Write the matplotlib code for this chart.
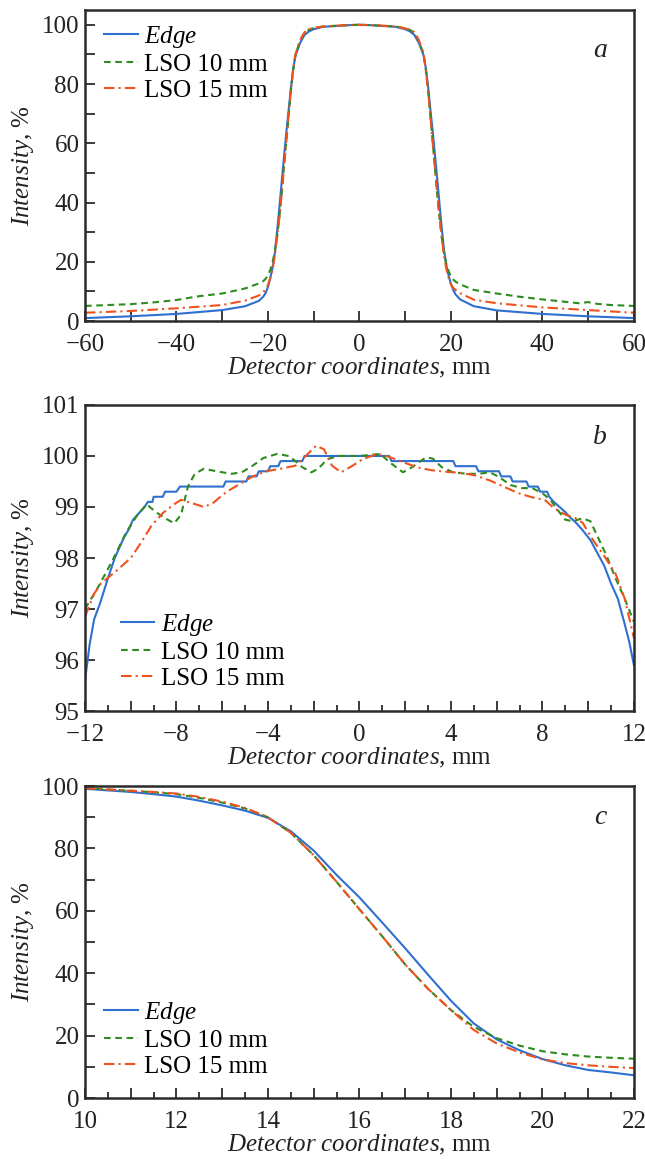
import matplotlib
matplotlib.use('Agg')
import matplotlib.pyplot as plt
from matplotlib.ticker import MultipleLocator, FuncFormatter

plt.rcParams['font.family'] = ['Liberation Serif', 'DejaVu Serif']
plt.rcParams['mathtext.fontset'] = 'custom'
plt.rcParams['mathtext.it'] = 'Liberation Serif:italic'
plt.rcParams['mathtext.rm'] = 'Liberation Serif'

# ---------------- Data ----------------
series_labels = [r'$\mathit{Edge}$', 'LSO 10 mm', 'LSO 15 mm']

# Panel a
edge_a_x = [-60, -50, -40, -30, -25, -22, -21, -20.5, -20, -19.5, -19, -18.5, -18, -17.5, -17, -16.5, -16,
            -15.5, -15, -14.5, -14, -13, -12, -11, -10, -8, -5, -2, 0,
            2, 5, 8, 10, 11, 12, 13, 14, 14.5, 15, 15.5, 16, 16.5, 17, 17.5, 18, 18.5, 19, 19.5,
            20, 20.5, 21, 22, 25, 30, 40, 50, 60]
edge_a_y = [1.0, 1.6, 2.4, 3.7, 5.0, 6.8, 8.3, 9.5, 11.5, 14.5, 18.0, 23.0, 30.5, 38.5, 47.0, 55.5, 63.5,
            71.0, 78.5, 85.0, 89.5, 93.8, 96.6, 97.8, 98.5, 99.3, 99.6, 99.9, 100.0,
            99.9, 99.6, 99.3, 98.5, 97.8, 96.6, 93.8, 89.8, 85.5, 79.3, 71.5, 64.3, 56.2, 48.0, 39.5,
            31.2, 23.9, 18.8, 15.3, 12.5, 10.5, 9.0, 7.3, 5.0, 3.6, 2.4, 1.6, 1.0]

lso10_a_x = [-60, -55, -50, -45, -40, -37, -35, -30, -25, -22, -21, -20.5, -20, -19.5, -19, -18.5, -18,
             -17.5, -17, -16.5, -16, -15.5, -15, -14.5, -14, -13, -12, -11, -10, -8, -5, -2, 0,
             2, 5, 8, 10, 11, 12, 13, 14, 14.5, 15, 15.5, 16, 16.5, 17, 17.5, 18, 18.5, 19, 19.5,
             20, 20.5, 21, 22, 25, 30, 35, 40, 45, 48, 50, 52, 55, 60]
lso10_a_y = [5.1, 5.4, 5.7, 6.3, 7.1, 7.9, 8.4, 9.3, 11.0, 12.7, 13.5, 14.3, 15.5, 17.2, 19.8, 23.5, 28.5,
             35.2, 43.0, 52.0, 60.5, 69.0, 77.5, 84.5, 89.8, 94.5, 97.3, 98.4, 98.9, 99.4, 99.7, 99.9, 100.0,
             99.9, 99.7, 99.4, 98.8, 98.3, 97.3, 94.6, 90.2, 85.0, 77.8, 69.3, 60.5, 51.8, 42.8, 35.0,
             28.2, 22.8, 19.2, 16.8, 15.0, 14.0, 13.3, 12.4, 10.5, 9.3, 8.2, 7.3, 6.5, 6.0, 6.4, 5.8, 5.4, 5.1]

lso15_a_x = [-60, -50, -40, -30, -25, -22, -21, -20.5, -20, -19.5, -19, -18.5, -18, -17.5, -17, -16.5, -16,
             -15.5, -15, -14.5, -14, -13, -12, -11, -10, -8, -5, -2, 0,
             2, 5, 8, 10, 11, 12, 13, 14, 14.5, 15, 15.5, 16, 16.5, 17, 17.5, 18, 18.5, 19, 19.5,
             20, 20.5, 21, 22, 25, 30, 40, 50, 60]
lso15_a_y = [2.8, 3.4, 4.3, 5.4, 6.9, 8.6, 9.8, 10.8, 12.2, 14.5, 17.5, 22.0, 28.2,
             35.0, 42.8, 51.8, 60.5, 69.3, 77.8, 85.0, 90.0, 94.8, 97.5, 98.5, 99.0, 99.4, 99.7, 99.9, 100.0,
             99.9, 99.7, 99.4, 98.8, 98.3, 97.5, 94.8, 90.2, 85.0, 77.8, 69.3, 60.5, 51.8, 42.8, 35.0,
             28.2, 21.8, 17.5, 14.6, 12.4, 11.2, 10.5, 9.4, 7.2, 6.0, 4.6, 3.7, 2.8]

# Panel b
edge_b_x = [-12.0, -11.8, -11.6, -11.35, -11.0, -10.7, -10.5, -10.3, -10.1, -9.9, -9.8, -9.6, -9.4, -9.25,
            -9.05, -9.0, -8.6, -8.5, -8.0, -7.85, -5.95, -5.85, -4.95, -4.85, -4.5, -4.4, -4.0, -3.9,
            -3.55, -3.45, -2.5, -2.4, 1.3, 1.4, 4.1, 4.2, 5.1, 5.2, 6.1, 6.2, 6.6, 6.7, 7.3, 7.4, 7.8,
            7.9, 8.2, 8.3, 8.5, 8.75, 9.0, 9.2, 9.45, 9.75, 10.1, 10.4, 10.7, 11.0, 11.3, 11.6, 11.8, 12.0]
edge_b_y = [95.6, 96.3, 96.8, 97.1, 97.6, 98.0, 98.2, 98.4, 98.55, 98.75, 98.8, 98.9, 99.0, 99.1,
            99.1, 99.2, 99.2, 99.3, 99.3, 99.4, 99.4, 99.5, 99.5, 99.6, 99.6, 99.7, 99.7, 99.8,
            99.8, 99.9, 99.9, 100.0, 100.0, 99.9, 99.9, 99.8, 99.8, 99.7, 99.7, 99.6, 99.6, 99.5, 99.5, 99.4, 99.4,
            99.3, 99.3, 99.2, 99.1, 99.0, 98.9, 98.8, 98.7, 98.55, 98.35, 98.1, 97.85, 97.5, 97.2, 96.7, 96.35, 95.9]

lso10_b_x = [-12.0, -11.4, -10.8, -10.2, -9.7, -9.3, -8.9, -8.5, -8.1, -7.8, -7.5, -7.2, -6.8, -6.25,
             -5.6, -5.15, -4.7, -4.2, -3.6, -3.1, -2.8, -2.5, -2.1, -1.8, -1.4, -0.9, 0.0, 0.9, 1.4,
             1.9, 2.3, 2.9, 3.2, 3.6, 4.1, 4.7, 5.2, 5.7, 6.1, 6.6, 7.1, 7.55, 8.0, 8.35, 8.65, 9.0,
             9.35, 9.75, 10.1, 10.4, 10.8, 11.2, 11.6, 12.0]
lso10_b_y = [97.0, 97.45, 97.95, 98.5, 98.85, 99.05, 98.9, 98.78, 98.68, 98.85, 99.4, 99.65, 99.75, 99.7,
             99.65, 99.68, 99.8, 99.96, 100.04, 100.0, 99.9, 99.78, 99.68, 99.75, 99.94, 100.0, 100.0, 100.04, 99.85,
             99.68, 99.78, 99.97, 99.95, 99.78, 99.68, 99.65, 99.65, 99.68, 99.59, 99.43, 99.37, 99.37, 99.27, 99.14,
             98.95, 98.75, 98.72, 98.78, 98.72, 98.43, 98.05, 97.6, 97.2, 96.75]

lso15_b_x = [-12.0, -11.6, -11.3, -10.6, -10.0, -9.55, -9.1, -8.6, -8.15, -7.8, -7.35, -6.8, -6.4, -5.8,
             -5.2, -4.7, -4.1, -3.45, -2.8, -2.35, -1.9, -1.55, -1.2, -0.8, -0.3, 0.15, 0.8, 1.25, 1.9,
             2.5, 3.15, 3.8, 4.4, 5.05, 5.7, 6.3, 6.95, 7.55, 8.1, 8.5, 9.0, 9.45, 9.76, 10.2, 10.7,
             11.2, 11.6, 12.0]
lso15_b_y = [96.85, 97.3, 97.5, 97.76, 98.0, 98.3, 98.63, 98.88, 99.04, 99.14, 99.08, 99.0, 99.08, 99.3,
             99.46, 99.59, 99.7, 99.75, 99.81, 100.0, 100.2, 100.13, 99.81, 99.68, 99.81, 99.94, 100.04, 99.99, 99.88,
             99.78, 99.72, 99.69, 99.67, 99.62, 99.52, 99.4, 99.27, 99.19, 99.14, 98.98, 98.85, 98.78, 98.69, 98.36, 98.04,
             97.69, 97.2, 96.43]

# Panel c
c_x = [10, 10.5, 11, 11.5, 12, 12.5, 13, 13.5, 14, 14.5, 15, 15.5, 16, 16.5, 17, 17.5, 18, 18.5, 19,
       19.5, 20, 20.5, 21, 21.5, 22]
edge_c_y = [99.1, 98.6, 98.1, 97.4, 96.6, 95.3, 93.8, 92.1, 89.8, 85.5, 79.3, 71.5, 64.3, 56.2, 48.0, 39.5,
            31.2, 23.9, 18.8, 15.3, 12.5, 10.5, 9.0, 8.2, 7.3]
lso10_c_y = [99.3, 98.9, 98.5, 98.0, 97.4, 96.2, 94.7, 92.8, 90.0, 85.0, 77.8, 69.3, 60.5, 51.8, 42.8, 35.0,
             28.2, 22.8, 19.2, 16.8, 15.0, 14.0, 13.3, 12.9, 12.6]
lso15_c_y = [99.3, 98.9, 98.5, 98.1, 97.6, 96.5, 95.0, 93.0, 90.0, 85.0, 77.8, 69.3, 60.5, 51.8, 42.8, 35.0,
             28.2, 21.8, 17.5, 14.6, 12.4, 11.2, 10.5, 10.0, 9.6]

panel_letters = ['a', 'b', 'c']
xlabel_text = r'$\mathit{Detector\ coordinates}$, mm'
ylabel_text = r'$\mathit{Intensity}$, %'

# ---------------- Style ----------------
colors = ['#2f6fd0', '#2e8b1e', '#f0521e']
styles = ['-', (0, (3.2, 2.2)), (0, (5, 2, 1, 2))]
spine_col = '#2b2b2b'
FS = 18

fig = plt.figure(figsize=(6.45, 11.59), dpi=100)
L, W = 0.1318, 0.851
ax_a = fig.add_axes([L, 0.7230, W, 0.2684])
ax_b = fig.add_axes([L, 0.3865, W, 0.2641])
ax_c = fig.add_axes([L, 0.0526, W, 0.2692])


def fmt_every(step):
    def f(v, pos):
        if abs(v / step - round(v / step)) < 1e-6:
            s = '%g' % v
            return s.replace('-', '\u2212')
        return ''
    return FuncFormatter(f)


def style(ax, xlim, ylim, xmaj, xmin, xlab, ymaj, ylab, xminlen, letter, lxy):
    ax.set_xlim(*xlim)
    ax.set_ylim(*ylim)
    ax.xaxis.set_major_locator(MultipleLocator(xmaj))
    ax.xaxis.set_minor_locator(MultipleLocator(xmin))
    ax.xaxis.set_major_formatter(fmt_every(xlab))
    ax.yaxis.set_major_locator(MultipleLocator(ymaj))
    ax.yaxis.set_major_formatter(fmt_every(ylab))
    ax.tick_params(which='both', direction='in', colors=spine_col, labelcolor='#222222',
                   labelsize=FS, width=1.3, top=False, right=False)
    ax.tick_params(which='major', length=7)
    ax.tick_params(axis='y', which='major', pad=4)
    ax.tick_params(axis='x', which='major', pad=9)
    ax.tick_params(axis='x', which='minor', length=xminlen)
    for s in ax.spines.values():
        s.set_linewidth(1.8)
        s.set_color(spine_col)
    ax.set_xlabel(xlabel_text, fontsize=FS, color='#222222', labelpad=0)
    ax.set_ylabel(ylabel_text, fontsize=FS, color='#222222', labelpad=4)
    ax.text(lxy[0], lxy[1], letter, transform=ax.transAxes, fontsize=20, style='italic',
            ha='center', va='center', color='#222222')


def legend(ax, loc, anchor):
    ax.legend(loc=loc, bbox_to_anchor=anchor, frameon=False, fontsize=FS, handlelength=1.35,
              handletextpad=0.25, labelspacing=0.14, borderpad=0, borderaxespad=0)


# Panel a
ax_a.plot(edge_a_x, edge_a_y, color=colors[0], ls=styles[0], lw=1.5, label=series_labels[0])
ax_a.plot(lso10_a_x, lso10_a_y, color=colors[1], ls=styles[1], lw=1.5, label=series_labels[1])
ax_a.plot(lso15_a_x, lso15_a_y, color=colors[2], ls=styles[2], lw=1.5, label=series_labels[2])
style(ax_a, (-60, 60), (0, 105), 10, 10, 20, 10, 20, 7, panel_letters[0], (0.938, 0.871))
legend(ax_a, 'upper left', (0.035, 0.955))

# Panel b
ax_b.plot(edge_b_x, edge_b_y, color=colors[0], ls=styles[0], lw=1.5, label=series_labels[0])
ax_b.plot(lso10_b_x, lso10_b_y, color=colors[1], ls=styles[1], lw=1.5, label=series_labels[1])
ax_b.plot(lso15_b_x, lso15_b_y, color=colors[2], ls=styles[2], lw=1.5, label=series_labels[2])
style(ax_b, (-12, 12), (95, 101), 2, 1, 4, 1, 1, 4, panel_letters[1], (0.938, 0.895))
legend(ax_b, 'lower left', (0.065, 0.07))

# Panel c
ax_c.plot(c_x, edge_c_y, color=colors[0], ls=styles[0], lw=1.5, label=series_labels[0])
ax_c.plot(c_x, lso10_c_y, color=colors[1], ls=styles[1], lw=1.5, label=series_labels[1])
ax_c.plot(c_x, lso15_c_y, color=colors[2], ls=styles[2], lw=1.5, label=series_labels[2])
style(ax_c, (10, 22), (0, 100), 1, 0.5, 2, 10, 20, 4, panel_letters[2], (0.938, 0.90))
legend(ax_c, 'lower left', (0.035, 0.065))

fig.savefig('out.png', dpi=100)
